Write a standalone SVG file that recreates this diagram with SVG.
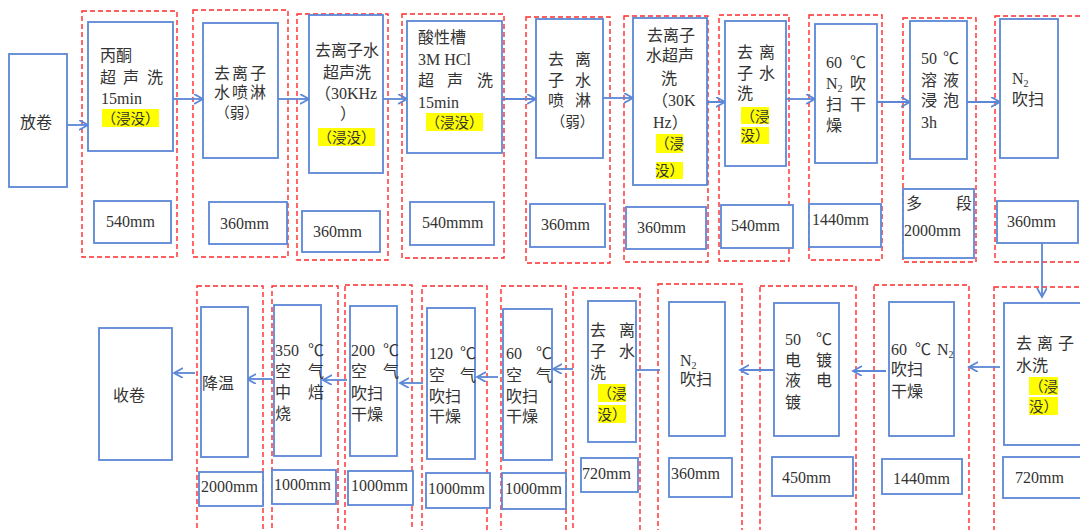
<svg xmlns="http://www.w3.org/2000/svg" width="1080" height="530" viewBox="0 0 1080 530">
<style>
.bg{fill:#ffffff}
.grp{fill:none;stroke:#ff2a2a;stroke-width:1.4;stroke-dasharray:5 3}
.box{fill:#ffffff;stroke:#5b87d6;stroke-width:1.8}
.hl{fill:#ffff00}
.t{font-family:"Liberation Serif","Noto Sans CJK SC",serif;font-size:16px;fill:#333333}
.c{text-anchor:middle}
.s{font-size:14.5px}
.sub{font-size:10px}
.con{stroke:#5b87d6;stroke-width:1.8;fill:none;marker-end:url(#ah)}
</style>
<defs>
<marker id="ah" markerUnits="userSpaceOnUse" markerWidth="12" markerHeight="12" refX="9" refY="5" orient="auto">
<path d="M0,0 L9,5 L0,10" fill="none" stroke="#5b87d6" stroke-width="1.8"/>
</marker>
</defs>
<rect class="bg" x="0" y="0" width="1080" height="530"/>

<g id="groups">
<rect class="grp" x="82" y="11" width="95" height="246"/>
<rect class="grp" x="193" y="10" width="95" height="247"/>
<rect class="grp" x="297" y="14" width="91" height="246"/>
<rect class="grp" x="402" y="14" width="102" height="244"/>
<rect class="grp" x="526" y="17" width="84" height="246"/>
<rect class="grp" x="624" y="16" width="84" height="246"/>
<rect class="grp" x="719" y="15" width="70" height="246"/>
<rect class="grp" x="809" y="15" width="73" height="245"/>
<rect class="grp" x="903" y="18" width="73" height="244"/>
<rect class="grp" x="995" y="16" width="95" height="246"/>
<rect class="grp" x="994" y="287" width="96" height="250"/>
<rect class="grp" x="874" y="285" width="95" height="252"/>
<rect class="grp" x="760" y="286" width="96" height="251"/>
<rect class="grp" x="658" y="284" width="84" height="253"/>
<rect class="grp" x="573" y="288" width="67" height="249"/>
<rect class="grp" x="501" y="286" width="65" height="251"/>
<rect class="grp" x="422" y="286" width="65" height="251"/>
<rect class="grp" x="345" y="285" width="67" height="252"/>
<rect class="grp" x="272" y="286" width="66" height="251"/>
<rect class="grp" x="197" y="286" width="66" height="251"/>
</g>

<g id="connectors">
<line class="con" x1="67" y1="125" x2="88" y2="125"/>
<line class="con" x1="173" y1="99" x2="203" y2="99"/>
<line class="con" x1="278" y1="99" x2="309" y2="99"/>
<line class="con" x1="383" y1="99" x2="407" y2="99"/>
<line class="con" x1="502" y1="99" x2="536" y2="99"/>
<line class="con" x1="603" y1="98" x2="633" y2="98"/>
<line class="con" x1="692" y1="102" x2="725" y2="102"/>
<line class="con" x1="786" y1="99" x2="815" y2="99"/>
<line class="con" x1="877" y1="102" x2="910" y2="102"/>
<line class="con" x1="967" y1="102" x2="1000" y2="102"/>
<line class="con" x1="1042" y1="243" x2="1042" y2="297"/>
<line class="con" x1="1000" y1="367" x2="969" y2="367"/>
<line class="con" x1="886" y1="371" x2="853" y2="371"/>
<line class="con" x1="775" y1="370" x2="740" y2="370"/>
<line class="con" x1="660" y1="370" x2="628" y2="370"/>
<line class="con" x1="573" y1="369" x2="553" y2="369"/>
<line class="con" x1="498" y1="377" x2="477" y2="377"/>
<line class="con" x1="423" y1="383" x2="400" y2="383"/>
<line class="con" x1="347" y1="380" x2="323" y2="380"/>
<line class="con" x1="272" y1="379" x2="247" y2="379"/>
<line class="con" x1="195" y1="373" x2="174" y2="373"/>
</g>

<g id="n-unwind">
<rect class="box" x="9" y="54" width="58" height="133"/>
<text class="t" x="20" y="128">放卷</text>
</g>

<g id="n1">
<rect class="box" x="88" y="22" width="85" height="129"/>
<text class="t" x="100" y="61">丙酮</text>
<text class="t" x="100 123 147" y="83">超声洗</text>
<text class="t" x="101" y="104">15min</text>
<rect class="hl" x="102" y="109" width="57" height="18"/>
<text class="t c s" x="130.5" y="124">（浸没）</text>
<rect class="box" x="94" y="201" width="77" height="42"/>
<text class="t" x="106" y="227">540mm</text>
</g>

<g id="n2">
<rect class="box" x="203" y="23" width="75" height="135"/>
<text class="t" x="214 232 250" y="79">去离子</text>
<text class="t" x="214 232 250" y="98">水喷淋</text>
<text class="t c s" x="237" y="118">（弱）</text>
<rect class="box" x="209" y="202" width="78" height="42"/>
<text class="t" x="220" y="229">360mm</text>
</g>

<g id="n3">
<rect class="box" x="309" y="15" width="74" height="158"/>
<text class="t" x="315" y="56">去离子水</text>
<text class="t" x="323" y="78">超声洗</text>
<text class="t" x="315" y="99">（30KHz</text>
<text class="t" x="340" y="119">）</text>
<rect class="hl" x="318" y="128" width="57" height="18"/>
<text class="t c s" x="346.5" y="143">（浸没）</text>
<rect class="box" x="302" y="211" width="78" height="41"/>
<text class="t" x="313" y="237">360mm</text>
</g>

<g id="n4">
<rect class="box" x="407" y="21" width="95" height="132"/>
<text class="t" x="418" y="43">酸性槽</text>
<text class="t" x="418" y="65">3M HCl</text>
<text class="t" x="418 447 477" y="86">超声洗</text>
<text class="t" x="418" y="108">15min</text>
<rect class="hl" x="426" y="113" width="57" height="18"/>
<text class="t c s" x="454.5" y="128">（浸没）</text>
<rect class="box" x="410" y="202" width="84" height="43"/>
<text class="t" x="422" y="228">540mmm</text>
</g>

<g id="n5">
<rect class="box" x="536" y="19" width="67" height="139"/>
<text class="t" x="548 575" y="65">去离</text>
<text class="t" x="548 575" y="86">子水</text>
<text class="t" x="548 575" y="106">喷淋</text>
<text class="t c s" x="572.5" y="127">（弱）</text>
<rect class="box" x="530" y="204" width="75" height="43"/>
<text class="t" x="541" y="230">360mm</text>
</g>

<g id="n6">
<rect class="box" x="633" y="18" width="74" height="167"/>
<text class="t" x="647" y="41">去离子</text>
<text class="t" x="646" y="61">水超声</text>
<text class="t" x="661" y="84">洗</text>
<text class="t" x="652" y="106">（30K</text>
<text class="t" x="653" y="128">Hz）</text>
<rect class="hl" x="656" y="134" width="27" height="19"/>
<text class="t c s" x="669.5" y="149">（浸</text>
<rect class="hl" x="656" y="162" width="27" height="17"/>
<text class="t c s" x="669.5" y="176">没）</text>
<rect class="box" x="626" y="207" width="80" height="42"/>
<text class="t" x="637" y="233">360mm</text>
</g>

<g id="n7">
<rect class="box" x="725" y="21" width="61" height="145"/>
<text class="t" x="737 759" y="58">去离</text>
<text class="t" x="737 759" y="79">子水</text>
<text class="t" x="737" y="99">洗</text>
<rect class="hl" x="741" y="107" width="28" height="17"/>
<text class="t c s" x="755" y="122">（浸</text>
<rect class="hl" x="741" y="127" width="28" height="17"/>
<text class="t c s" x="755" y="141">没）</text>
<rect class="box" x="721" y="205" width="72" height="43"/>
<text class="t" x="731" y="231">540mm</text>
</g>

<g id="n8">
<rect class="box" x="815" y="24" width="62" height="139"/>
<text class="t" x="826" y="68">60</text>
<text class="t" x="850" y="68">℃</text>
<text class="t" x="826" y="89">N<tspan class="sub" dy="3">2</tspan></text>
<text class="t" x="850" y="89">吹</text>
<text class="t" x="826 850" y="110">扫干</text>
<text class="t" x="826" y="131">燥</text>
<rect class="box" x="809" y="204" width="72" height="43"/>
<text class="t" x="812" y="225">1440mm</text>
</g>

<g id="n9">
<rect class="box" x="910" y="21" width="57" height="138"/>
<text class="t" x="921" y="64">50</text>
<text class="t" x="943" y="64">℃</text>
<text class="t" x="921 943" y="86">溶液</text>
<text class="t" x="921 943" y="106">浸泡</text>
<text class="t" x="921" y="128">3h</text>
<rect class="box" x="903" y="189" width="71" height="69"/>
<text class="t" x="906 956" y="209">多段</text>
<text class="t" x="904" y="236">2000mm</text>
</g>

<g id="n10">
<rect class="box" x="1000" y="19" width="58" height="139"/>
<text class="t" x="1012" y="84">N<tspan class="sub" dy="3">2</tspan></text>
<text class="t" x="1012" y="105">吹扫</text>
<rect class="box" x="997" y="201" width="81" height="42"/>
<text class="t" x="1007" y="227">360mm</text>
</g>

<g id="n11">
<rect class="box" x="1004" y="303" width="85" height="142"/>
<text class="t" x="1016 1037 1058" y="349">去离子</text>
<text class="t" x="1016" y="371">水洗</text>
<rect class="hl" x="1029" y="377" width="29" height="18"/>
<text class="t c s" x="1043.5" y="392">（浸</text>
<rect class="hl" x="1029" y="397" width="29" height="18"/>
<text class="t c s" x="1043.5" y="412">没）</text>
<rect class="box" x="1003" y="457" width="86" height="41"/>
<text class="t" x="1015" y="483">720mm</text>
</g>

<g id="n12">
<rect class="box" x="889" y="302" width="65" height="134"/>
<text class="t" x="891" y="355">60</text>
<text class="t" x="915" y="355">℃</text>
<text class="t" x="937" y="355">N<tspan class="sub" dy="3">2</tspan></text>
<text class="t" x="891" y="375">吹扫</text>
<text class="t" x="891" y="397">干燥</text>
<rect class="box" x="882" y="459" width="80" height="35"/>
<text class="t" x="893" y="484">1440mm</text>
</g>

<g id="n13">
<rect class="box" x="774" y="303" width="65" height="133"/>
<text class="t" x="785" y="345">50</text>
<text class="t" x="816" y="345">℃</text>
<text class="t" x="785 816" y="366">电镀</text>
<text class="t" x="785 816" y="386">液电</text>
<text class="t" x="785" y="408">镀</text>
<rect class="box" x="772" y="457" width="81" height="39"/>
<text class="t" x="782" y="483">450mm</text>
</g>

<g id="n14">
<rect class="box" x="669" y="302" width="56" height="134"/>
<text class="t" x="680" y="366">N<tspan class="sub" dy="3">2</tspan></text>
<text class="t" x="680" y="385">吹扫</text>
<rect class="box" x="669" y="458" width="63" height="39"/>
<text class="t" x="671" y="479">360mm</text>
</g>

<g id="n15">
<rect class="box" x="588" y="301" width="48" height="141"/>
<text class="t" x="590 619" y="336">去离</text>
<text class="t" x="590 619" y="357">子水</text>
<text class="t" x="590" y="378">洗</text>
<rect class="hl" x="598" y="384" width="28" height="18"/>
<text class="t c s" x="612" y="399">（浸</text>
<rect class="hl" x="598" y="405" width="28" height="18"/>
<text class="t c s" x="612" y="420">没）</text>
<rect class="box" x="581" y="458" width="57" height="34"/>
<text class="t" x="582" y="479">720mm</text>
</g>

<g id="n16">
<rect class="box" x="503" y="309" width="49" height="151"/>
<text class="t" x="506" y="359">60</text>
<text class="t" x="536" y="359">℃</text>
<text class="t" x="506 536" y="381">空气</text>
<text class="t" x="506" y="402">吹扫</text>
<text class="t" x="506" y="422">干燥</text>
<rect class="box" x="502" y="473" width="64" height="36"/>
<text class="t" x="505" y="494">1000mm</text>
</g>

<g id="n17">
<rect class="box" x="427" y="308" width="48" height="151"/>
<text class="t" x="429" y="359">120</text>
<text class="t" x="460" y="359">℃</text>
<text class="t" x="429 460" y="381">空气</text>
<text class="t" x="429" y="402">吹扫</text>
<text class="t" x="429" y="422">干燥</text>
<rect class="box" x="426" y="473" width="64" height="35"/>
<text class="t" x="428" y="494">1000mm</text>
</g>

<g id="n18">
<rect class="box" x="350" y="306" width="47" height="150"/>
<text class="t" x="351" y="356">200</text>
<text class="t" x="383" y="356">℃</text>
<text class="t" x="351 383" y="377">空气</text>
<text class="t" x="351" y="399">吹扫</text>
<text class="t" x="351" y="420">干燥</text>
<rect class="box" x="348" y="471" width="65" height="34"/>
<text class="t" x="351" y="491">1000mm</text>
</g>

<g id="n19">
<rect class="box" x="274" y="305" width="47" height="151"/>
<text class="t" x="275" y="356">350</text>
<text class="t" x="308" y="356">℃</text>
<text class="t" x="275 308" y="377">空气</text>
<text class="t" x="275 308" y="398">中焙</text>
<text class="t" x="275" y="419">烧</text>
<rect class="box" x="272" y="470" width="64" height="34"/>
<text class="t" x="274" y="490">1000mm</text>
</g>

<g id="n20">
<rect class="box" x="201" y="307" width="47" height="150"/>
<text class="t" x="202" y="389">降温</text>
<rect class="box" x="199" y="472" width="64" height="34"/>
<text class="t" x="201" y="492">2000mm</text>
</g>

<g id="n-rewind">
<rect class="box" x="99" y="328" width="73" height="132"/>
<text class="t" x="113" y="401">收卷</text>
</g>
</svg>
